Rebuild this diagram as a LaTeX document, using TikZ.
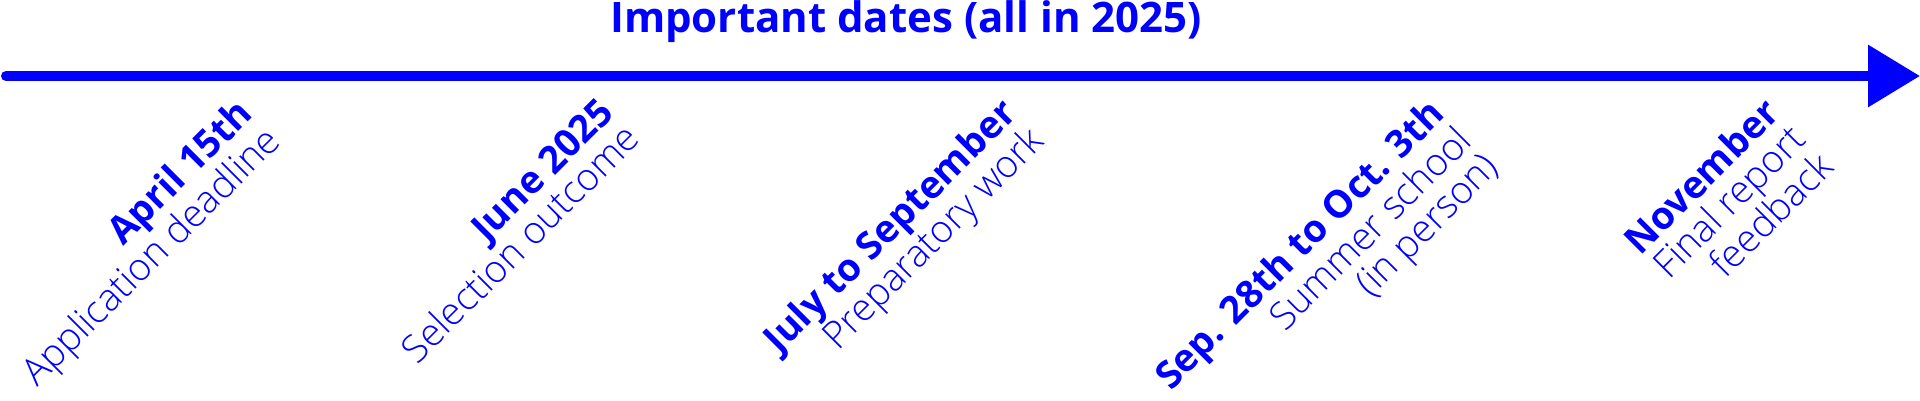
\documentclass[tikz,border=0pt]{standalone}
\usepackage{fontspec}
\setmainfont{Open Sans}
\newfontfamily\lightfont{Open Sans Light}
\usepackage{xcolor}
\usetikzlibrary{positioning,arrows.meta}

\tikzset{
  timeline/.style={line width=10pt, blue, line cap=round, -{Triangle[length=52pt,width=60pt]}},
  datelabel/.style={rotate=45, anchor=north east, align=right, inner sep=0pt, text=blue, font=\fontsize{38}{37}\selectfont}
}

\begin{document}
\begin{tikzpicture}[x=1pt,y=1pt]
        \useasboundingbox (0,0) rectangle (1920,-400);
        \node[anchor=base, text=blue, font=\fontsize{42}{50}\selectfont\bfseries] (title) at (906,-32) {Important dates (all in 2025)};

        \coordinate (start) at (6,-76);
        \coordinate (end) at (1920,-76);
        \draw[timeline] (start) -- (end);

        \node[datelabel] (april) at (234,-95) {\textbf{April 15th}\\{\lightfont Application deadline}};
        \node[datelabel] (june) at (596,-95) {\textbf{June 2025}\\{\lightfont Selection outcome}};
        \node[datelabel] (july) at (998,-95) {\textbf{July to September}\\{\lightfont Preparatory work}};
        \node[datelabel] (sep) at (1426,-95) {\textbf{Sep. 28th to Oct. 3th}\\{\lightfont Summer school}\\{\lightfont (in person)}};
        \node[datelabel] (nov) at (1761,-95) {\textbf{November}\\{\lightfont Final report}\\{\lightfont feedback}};
    \end{tikzpicture}
\end{document}
